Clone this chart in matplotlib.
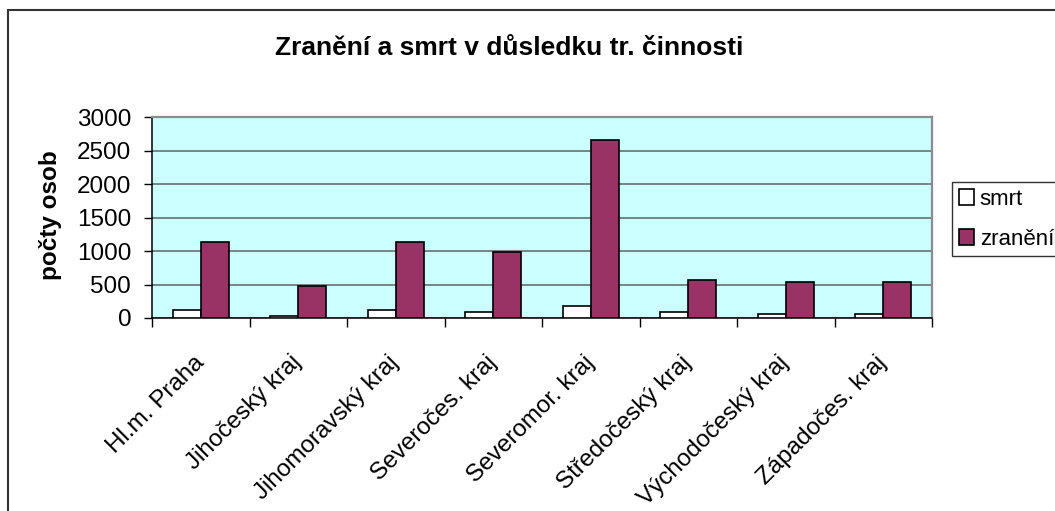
import matplotlib
matplotlib.use("Agg")
import matplotlib.pyplot as plt
import matplotlib.patches as mpatches
import matplotlib.transforms as mtransforms
import numpy as np

plt.rcParams['font.family'] = ['Liberation Sans', 'DejaVu Sans']

# data
kraje = ["Hl.m. Praha", "Jihočeský kraj", "Jihomoravský kraj", "Severočes. kraj",
         "Severomor. kraj", "Středočeský kraj", "Východočeský kraj", "Západočes. kraj"]
smrt = [125, 30, 125, 95, 179, 95, 66, 66]
zraneni = [1130, 478, 1130, 981, 2657, 563, 537, 537]
yticks = [0, 500, 1000, 1500, 2000, 2500, 3000]

W, H = 1055, 511
fig = plt.figure(figsize=(W / 100, H / 100), dpi=100)
ax = fig.add_axes([152 / W, 1 - 318 / H, (932 - 152) / W, (318 - 117) / H])
ax.set_facecolor('#CCFFFF')

x = np.arange(len(kraje))
w = 0.2857
ax.bar(x - w / 2, smrt, width=w, color='white', edgecolor='black', linewidth=1.2,
       label='smrt', zorder=3)
ax.bar(x + w / 2, zraneni, width=w, color='#993366', edgecolor='black', linewidth=1.2,
       label='zranění', zorder=3)

ax.set_xlim(-0.5, len(kraje) - 0.5)
ax.set_ylim(0, 3000)
ax.set_yticks(yticks)
ax.set_yticklabels([str(v) for v in yticks], fontsize=17.5)
ax.grid(axis='y', color='#5f6464', linewidth=1.1, zorder=1)
ax.tick_params(axis='y', length=6, width=1, pad=9, colors='black')

# category boundary ticks + rotated labels
ax.set_xticks(x)
ax.set_xticks(np.arange(-0.5, len(kraje), 1), minor=True)
ax.tick_params(axis='x', which='major', length=0, pad=24)
ax.tick_params(axis='x', which='minor', length=6.5, width=1)
ax.set_xticklabels(kraje, rotation=45, ha='right', va='top', rotation_mode='anchor',
                   fontsize=17.5)
off = mtransforms.ScaledTranslation(-8 / 100, 0, fig.dpi_scale_trans)
for lab in ax.get_xticklabels():
    lab.set_transform(lab.get_transform() + off)

for s in ['top', 'right']:
    ax.spines[s].set_color('#8c8c8c')
    ax.spines[s].set_linewidth(1.6)
for s in ['left', 'bottom']:
    ax.spines[s].set_color('black')
    ax.spines[s].set_linewidth(1.1)

fig.text(509 / W, 1 - 55 / H, 'Zranění a smrt v důsledku tr. činnosti', fontsize=19,
         fontweight='bold', ha='center', va='baseline')
fig.text(50 / W, 1 - 215 / H, 'počty osob', fontsize=17.5, fontweight='bold',
         rotation=90, ha='center', va='center')

leg = fig.legend(loc='upper left', bbox_to_anchor=(952 / W, 0, 0.12, 1 - 182 / H),
                 mode='expand', fontsize=16, frameon=True, fancybox=False,
                 edgecolor='black', handlelength=0.7, handleheight=0.7,
                 handletextpad=0.25, borderpad=0.3, labelspacing=0.85,
                 borderaxespad=0)
leg.get_frame().set_linewidth(1.0)

# outer chart border (runs off the right and bottom edge)
fig.patches.append(mpatches.Rectangle((8 / W, -0.1), 1.2, 1.1 - 10 / H,
                                      transform=fig.transFigure, fill=False,
                                      edgecolor='#333333', linewidth=1.5))

fig.savefig('out.png', dpi=100)
